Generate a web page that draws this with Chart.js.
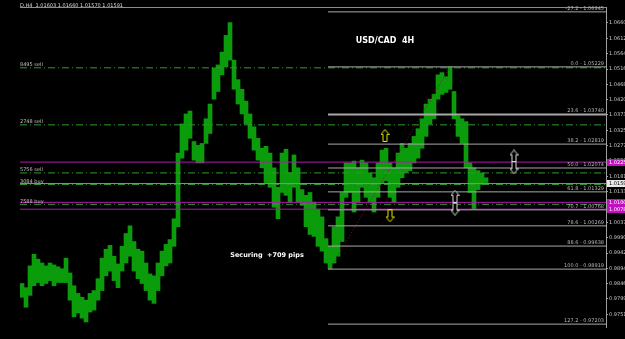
<!DOCTYPE html>
<html>
<head>
<meta charset="utf-8">
<script src="https://cdn.jsdelivr.net/npm/chart.js@4.4.0/dist/chart.umd.min.js"></script>
<style>
  html, body { margin: 0; padding: 0; background: #000; }
  canvas { display: block; background: #000; }
</style>
</head>
<body>
<canvas id="chart" width="625" height="339"></canvas>
<script>
// H4 bars, one entry per bar (low / high)
const lows = [0.9804,0.9773,0.9810,0.9840,0.9850,0.9840,0.9847,0.9856,0.9840,0.9850,
  0.9850,0.9850,0.9795,0.9743,0.9755,0.9739,0.9727,0.9758,0.9764,0.9795,
  0.9825,0.9871,0.9886,0.9856,0.9834,0.9886,0.9911,0.9932,0.9886,0.9862,
  0.9847,0.9825,0.9795,0.9785,0.9825,0.9871,0.9902,0.9911,0.9963,1.0024,
  1.0238,1.0263,1.0300,1.0232,1.0223,1.0223,1.0284,1.0315,1.0422,1.0446,
  1.0498,1.0523,1.0544,1.0453,1.0407,1.0376,1.0345,1.0300,1.0263,1.0232,
  1.0208,1.0162,1.0147,1.0085,1.0049,1.0131,1.0122,1.0101,1.0147,1.0101,
  1.0091,1.0024,1.0000,0.9994,0.9963,0.9948,0.9911,0.9893,0.9911,0.9932,
  0.9978,1.0116,1.0131,1.0070,1.0101,1.0147,1.0116,1.0101,1.0070,1.0116,
  1.0162,1.0168,1.0116,1.0101,1.0147,1.0177,1.0192,1.0199,1.0223,1.0238,
  1.0269,1.0306,1.0345,1.0361,1.0422,1.0437,1.0443,1.0453,1.0361,1.0306,
  1.0284,1.0208,1.0131,1.0079,1.0140,1.0156,1.0162];
const highs = [0.9847,0.9834,0.9902,0.9938,0.9923,0.9911,0.9902,0.9911,0.9905,0.9899,
  0.9893,0.9926,0.9880,0.9840,0.9816,0.9804,0.9795,0.9816,0.9825,0.9862,
  0.9926,0.9954,0.9966,0.9932,0.9908,0.9963,1.0003,1.0027,0.9978,0.9954,
  0.9948,0.9911,0.9877,0.9871,0.9911,0.9948,0.9969,0.9984,1.0049,1.0254,
  1.0345,1.0376,1.0385,1.0290,1.0278,1.0284,1.0361,1.0407,1.0520,1.0529,
  1.0569,1.0621,1.0661,1.0544,1.0483,1.0453,1.0416,1.0376,1.0336,1.0300,
  1.0269,1.0275,1.0254,1.0208,1.0147,1.0254,1.0266,1.0192,1.0248,1.0208,
  1.0140,1.0122,1.0131,1.0101,1.0079,1.0055,0.9987,0.9963,1.0024,1.0055,
  1.0131,1.0223,1.0223,1.0229,1.0208,1.0232,1.0223,1.0192,1.0177,1.0223,
  1.0263,1.0269,1.0223,1.0208,1.0254,1.0284,1.0269,1.0284,1.0306,1.0330,
  1.0361,1.0407,1.0422,1.0437,1.0498,1.0505,1.0492,1.0523,1.0446,1.0370,
  1.0361,1.0352,1.0223,1.0208,1.0199,1.0192,1.0177];

// fibonacci retracement
const fibLevels = ['-27.2','0.0','23.6','38.2','50.0','61.8','70.7','78.6','88.6','100.0','127.2'];
const fibPrices = [1.06945,1.05229,1.03740,1.02819,1.02074,1.01329,1.00768,1.00269,0.99638,0.98919,0.97203];
const fibStart = 76.5;
const fibAnchors = [[77, 0.98919], [107, 1.05229]];

// order lines
const orderLabels = ['8495 sell','2748 sell','5756 sell','3084 buy','7588 buy'];
const orderPrices = [1.0520, 1.0342, 1.0192, 1.0156, 1.0094];
const magentaPrices = [1.02258, 1.01002, 1.00788];
const bidPrice = 1.01591;

// right price scale
const yTicks = [1.06600,1.06120,1.05640,1.05160,1.04680,1.04200,1.03730,1.03250,1.02770,1.02300,
  1.01810,1.01330,1.00850,1.00370,0.99900,0.99420,0.98940,0.98460,0.97990,0.97510];

// arrows
const arrowX = [90.75, 92, 108.25, 108.25, 123, 123];
const arrowY = [1.0309, 1.0058, 1.0119, 1.0079, 1.0245, 1.0208];
const arrowDir = ['up','down','up','down','up','down'];
const arrowCol = ['#e6e600','#e6e600','#dcdcdc','#dcdcdc','#dcdcdc','#dcdcdc'];

const headerText = 'D,H4  1.01603 1.01660 1.01570 1.01591';
const titleText = 'USD/CAD  4H';
const titlePos = [90.75, 1.0603];
const noteText = 'Securing  +709 pips';
const notePos = [61.25, 0.9935];

const xMin = -0.5, xMax = 146;

function makeArrow(color, dir) {
  const c = document.createElement('canvas');
  c.width = 9; c.height = 13;
  const g = c.getContext('2d');
  let pts = [[4.5,0.5],[8.5,5.5],[6.5,5.5],[6.5,12.5],[2.5,12.5],[2.5,5.5],[0.5,5.5]];
  if (dir === 'down') pts = pts.map(p => [p[0], 13 - p[1]]);
  g.fillStyle = '#000';
  g.strokeStyle = color;
  g.lineWidth = 1;
  g.beginPath();
  pts.forEach((p, i) => i ? g.lineTo(p[0], p[1]) : g.moveTo(p[0], p[1]));
  g.closePath();
  g.fill();
  g.stroke();
  return c;
}

function hline(price, x0, x1, color, width, dash) {
  return {
    type: 'line',
    data: [{x: x0, y: price}, {x: x1, y: price}],
    borderColor: color,
    borderWidth: width,
    borderDash: dash || [],
    pointRadius: 0,
    order: 1
  };
}

const datasets = [];
datasets.push({
  type: 'bar',
  data: lows.map((lo, i) => ({x: i, y: [lo, highs[i]]})),
  backgroundColor: '#0a9c0a',
  barThickness: 4,
  order: 10
});
fibPrices.forEach((p, i) => {
  datasets.push(hline(p, fibStart, xMax, '#a8a8a8', fibLevels[i] === '23.6' ? 2 : 1));
});
datasets.push(hline(bidPrice, xMin, xMax, '#8c8c8c', 1));
orderPrices.forEach(p => datasets.push(hline(p, xMin, xMax, '#2f9a2f', 1, [7, 3, 1, 3])));
magentaPrices.forEach(p => datasets.push(hline(p, xMin, xMax, '#b018b0', 1)));
datasets.push({
  type: 'line',
  data: fibAnchors.map(a => ({x: a[0], y: a[1]})),
  borderColor: '#8a1030',
  borderWidth: 1,
  borderDash: [1, 2],
  pointRadius: 0,
  order: 1
});
datasets.push({
  type: 'scatter',
  data: arrowX.map((x, i) => ({x: x, y: arrowY[i]})),
  pointStyle: arrowX.map((x, i) => makeArrow(arrowCol[i], arrowDir[i])),
  pointRadius: 6,
  order: 0
});

const overlay = {
  id: 'overlay',
  afterDatasetsDraw(chart) {
    const {ctx, chartArea: a, scales: {x, y}} = chart;
    ctx.save();
    ctx.strokeStyle = '#8c8c8c';
    ctx.lineWidth = 1;
    ctx.beginPath();
    ctx.moveTo(a.left, a.top + 0.5);
    ctx.lineTo(a.right, a.top + 0.5);
    ctx.stroke();

    ctx.font = '5px "DejaVu Sans"';
    ctx.fillStyle = '#d8d8d8';
    ctx.textAlign = 'left';
    ctx.textBaseline = 'middle';
    ctx.fillText(headerText, a.left, 6);
    ctx.fillStyle = '#c0c0c0';
    orderLabels.forEach((t, i) => {
      ctx.fillText(t, a.left, y.getPixelForValue(orderPrices[i]) - 3);
    });

    ctx.textAlign = 'right';
    ctx.textBaseline = 'bottom';
    ctx.fillStyle = '#b8b8b8';
    fibLevels.forEach((l, i) => {
      ctx.fillText(l + ' - ' + fibPrices[i].toFixed(5), a.right - 2, y.getPixelForValue(fibPrices[i]) - 1);
    });

    ctx.fillStyle = '#ffffff';
    ctx.textAlign = 'center';
    ctx.textBaseline = 'middle';
    ctx.font = 'bold 8px "DejaVu Sans"';
    ctx.fillText(titleText, x.getPixelForValue(titlePos[0]), y.getPixelForValue(titlePos[1]));
    ctx.font = 'bold 6.5px "DejaVu Sans"';
    ctx.fillText(noteText, x.getPixelForValue(notePos[0]), y.getPixelForValue(notePos[1]));
    ctx.restore();
  },
  afterDraw(chart) {
    const {ctx, chartArea: a, scales: {y}} = chart;
    ctx.save();
    ctx.font = '5px "DejaVu Sans"';
    ctx.textAlign = 'left';
    ctx.textBaseline = 'middle';
    const box = (p, bg, fg) => {
      const py = Math.round(y.getPixelForValue(p));
      ctx.fillStyle = bg;
      ctx.fillRect(a.right + 1, py - 3, 20, 7);
      ctx.fillStyle = fg;
      ctx.fillText(p.toFixed(5), a.right + 3, py + 0.5);
    };
    magentaPrices.forEach(p => box(p, '#c010c0', '#ffffff'));
    box(bidPrice, '#e8e8e8', '#000000');
    ctx.restore();
  }
};

new Chart(document.getElementById('chart'), {
  type: 'bar',
  data: {datasets: datasets},
  options: {
    responsive: false,
    animation: false,
    devicePixelRatio: 1,
    layout: {padding: {left: 20, right: 0, top: 1, bottom: 12}},
    plugins: {legend: {display: false}, tooltip: {enabled: false}},
    scales: {
      x: {
        type: 'linear',
        min: xMin,
        max: xMax,
        offset: false,
        display: false
      },
      y: {
        position: 'right',
        min: 0.97113,
        max: 1.07097,
        afterFit(s) { s.width = 19; },
        afterBuildTicks(s) { s.ticks = yTicks.map(v => ({value: v})); },
        grid: {drawOnChartArea: false, drawTicks: true, tickLength: 2, color: '#a0a0a0'},
        border: {display: true, color: '#a0a0a0'},
        ticks: {
          padding: 1,
          color: '#c8c8c8',
          font: {size: 5, family: 'DejaVu Sans'},
          callback: v => v.toFixed(5)
        }
      }
    }
  },
  plugins: [overlay]
});
</script>
</body>
</html>
